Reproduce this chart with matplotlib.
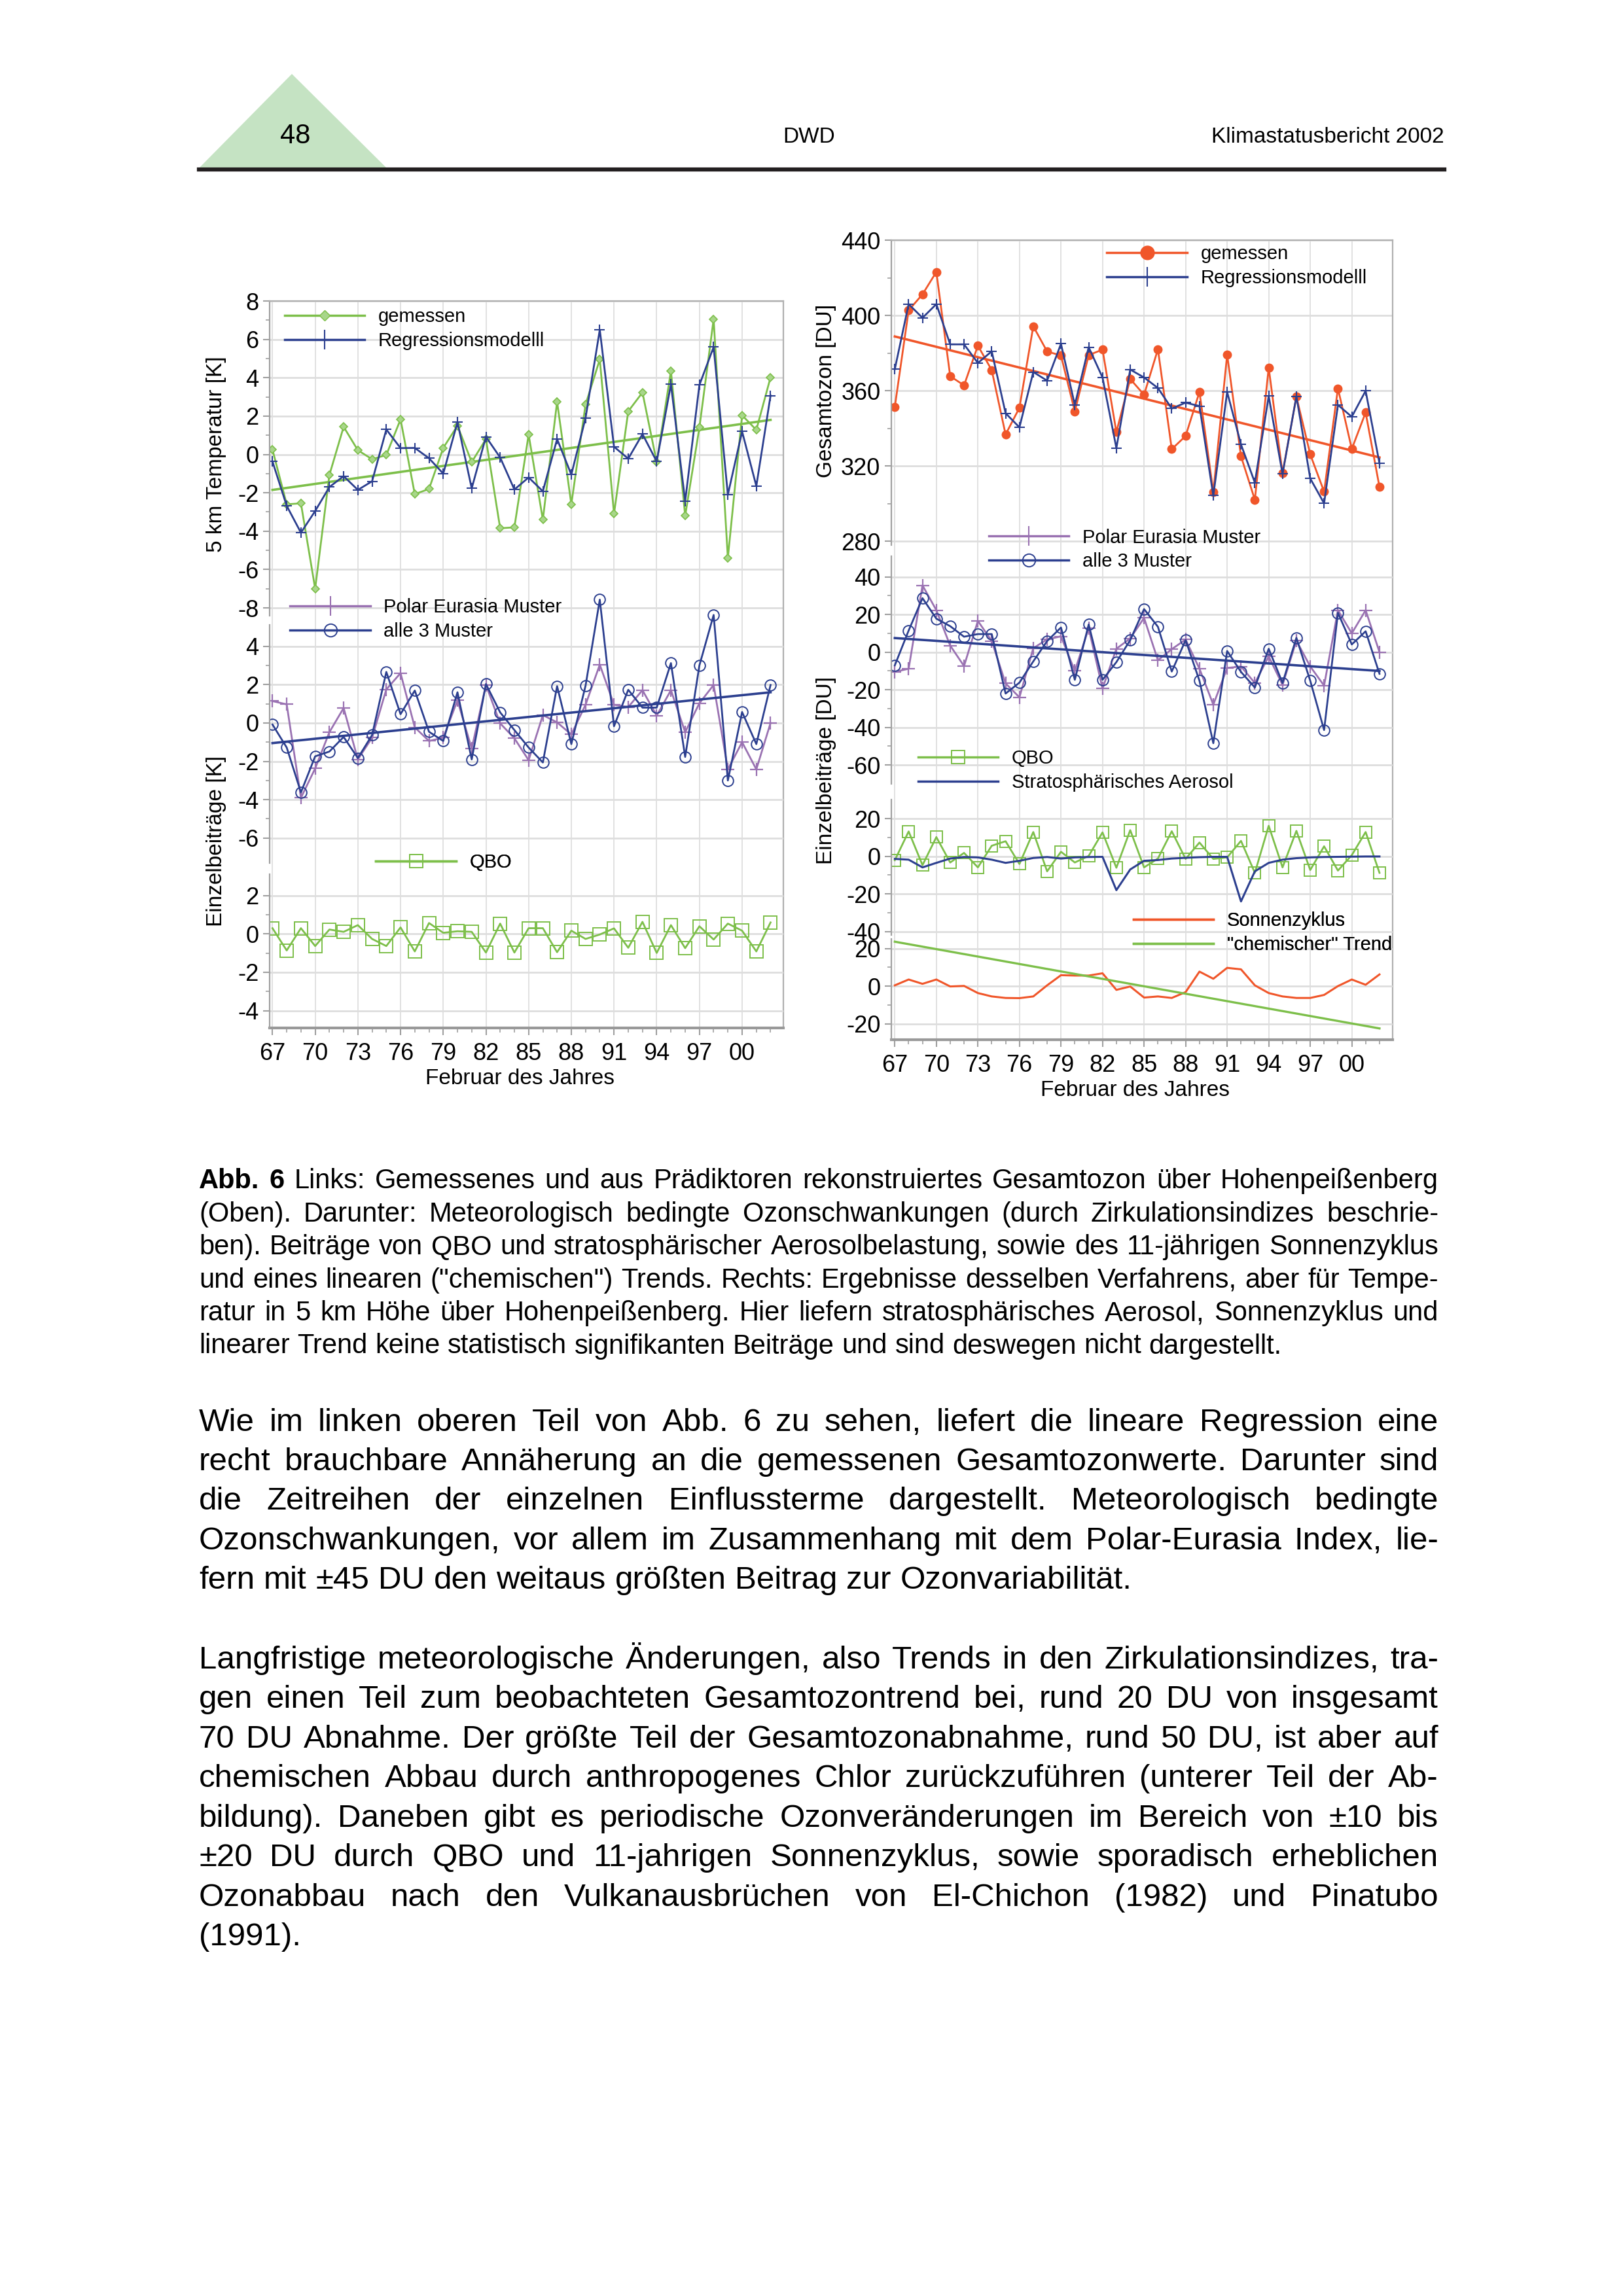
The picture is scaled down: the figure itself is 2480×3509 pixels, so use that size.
import matplotlib
matplotlib.use('Agg')
import matplotlib.pyplot as plt
from matplotlib.lines import Line2D
from matplotlib.patches import Polygon
from matplotlib.ticker import FixedLocator

plt.rcParams['font.family'] = ['Liberation Sans', 'DejaVu Sans']
plt.rcParams['axes.unicode_minus'] = False

# ---------------- data ----------------
years = list(range(1967, 2003))
year_ticks = [1967, 1970, 1973, 1976, 1979, 1982, 1985, 1988, 1991, 1994, 1997, 2000]
year_labels = ['67', '70', '73', '76', '79', '82', '85', '88', '91', '94', '97', '00']
trend_years = [1967, 2002]

# left: 5 km temperature [K]
temp_gemessen = [0.25, -2.6, -2.55, -7.0, -1.07, 1.44, 0.22, -0.25, -0.03, 1.83,
                 -2.07, -1.8, 0.34, 1.5, -0.4, 0.8, -3.85, -3.8, 1.04, -3.4,
                 2.75, -2.6, 2.6, 4.95, -3.1, 2.25, 3.23, -0.4, 4.35, -3.2,
                 1.4, 7.05, -5.4, 2.04, 1.28, 4.02]
temp_modell = [-0.37, -2.68, -4.08, -2.95, -1.7, -1.13, -1.85, -1.4, 1.3, 0.33,
               0.34, -0.2, -1.0, 1.68, -1.77, 0.92, -0.16, -1.83, -1.2, -1.92,
               0.8, -1.05, 1.9, 6.5, 0.4, -0.22, 1.06, -0.37, 3.66, -2.44,
               3.62, 5.6, -2.1, 1.2, -1.65, 3.07]
temp_trend = [-1.85, 1.8]
temp_polar = [1.14, 0.97, -3.9, -2.37, -0.48, 0.78, -1.9, -0.77, 1.75, 2.6,
              -0.23, -0.94, -0.77, 1.18, -1.34, 1.98, -0.02, -0.8, -1.94, 0.41,
              0.03, -0.6, 0.95, 3.04, 0.95, 0.83, 1.71, 0.38, 1.71, -0.48,
              1.03, 1.98, -2.42, -1.0, -2.42, 0.0]
temp_alle3 = [-0.08, -1.28, -3.62, -1.74, -1.49, -0.73, -1.83, -0.63, 2.66, 0.46,
              1.69, -0.46, -0.94, 1.6, -1.9, 2.03, 0.55, -0.37, -1.28, -2.06,
              1.92, -1.1, 1.94, 6.43, -0.17, 1.73, 0.8, 0.8, 3.12, -1.77,
              3.0, 5.63, -3.0, 0.57, -1.1, 1.98]
temp_alle3_trend = [-1.05, 1.6]
temp_qbo = [0.3, -0.86, 0.3, -0.63, 0.23, 0.11, 0.46, -0.26, -0.63, 0.34,
            -0.91, 0.57, 0.06, 0.14, 0.11, -0.97, 0.54, -0.97, 0.3, 0.3,
            -0.95, 0.17, -0.26, -0.03, 0.29, -0.72, 0.63, -0.99, 0.46, -0.74,
            0.4, -0.29, 0.54, 0.17, -0.91, 0.6]

# right: total ozone [DU]
oz_gemessen = [351.4, 402.7, 411.2, 423.1, 367.7, 362.8, 383.9, 370.9, 336.7, 350.9,
               394.2, 380.8, 378.7, 348.9, 378.9, 381.8, 338.0, 366.2, 357.8, 382.0,
               328.9, 335.9, 359.3, 306.1, 379.1, 325.1, 302.0, 372.2, 316.1, 356.8,
               326.1, 306.3, 361.2, 329.0, 348.4, 308.8]
oz_modell = [371.4, 406.0, 398.7, 406.0, 384.6, 384.6, 374.7, 380.9, 348.0, 340.5,
             369.9, 365.3, 384.9, 352.4, 383.1, 367.0, 329.5, 371.2, 367.0, 361.4,
             350.5, 353.6, 351.8, 304.2, 359.3, 331.4, 311.1, 357.1, 315.7, 357.0,
             313.3, 300.1, 352.4, 346.1, 359.9, 321.3]
oz_trend = [388.8, 324.5]
oz_polar = [-10.5, -8.8, 35.5, 22.3, 3.5, -7.4, 16.6, 5.9, -16.6, -24.0,
            2.1, 6.8, 8.4, -10.0, 12.7, -19.3, 1.8, 7.3, 18.2, -4.3,
            1.6, 6.7, -8.8, -27.9, -8.4, -7.6, -16.4, -2.3, -17.4, 6.1,
            -7.6, -17.8, 22.3, 10.0, 22.3, 0.0]
oz_alle3 = [-7.0, 11.5, 28.7, 17.8, 13.8, 8.2, 9.6, 9.6, -22.0, -16.2,
            -4.9, 5.9, 13.1, -14.7, 14.7, -14.7, -5.3, 6.4, 22.9, 13.5,
            -10.3, 6.4, -15.2, -48.4, 0.6, -10.5, -18.8, 1.8, -16.4, 7.6,
            -15.2, -41.4, 20.9, 4.1, 11.1, -11.5]
oz_alle3_trend = [7.5, -10.0]
oz_qbo = [-2.1, 13.2, -4.7, 10.2, -3.3, 1.8, -5.9, 5.6, 8.0, -4.1,
          12.9, -8.0, 2.4, -3.3, 0.2, 12.7, -6.1, 13.9, -5.9, -1.2,
          13.3, -1.4, 7.3, -1.4, -0.6, 8.2, -8.8, 16.2, -5.9, 13.5,
          -7.3, 5.3, -7.6, 0.6, 12.9, -8.8]
oz_aerosol = [-1.4, -1.8, -5.9, -3.5, -1.2, -0.4, -0.6, -1.8, -3.5, -2.4,
              -0.9, -0.4, -1.2, -0.6, -0.4, -0.3, -18.0, -7.0, -2.4, -2.0,
              -1.2, -0.8, -0.5, -0.3, -0.3, -24.0, -8.0, -3.5, -1.8, -1.0,
              -0.6, -0.4, -0.3, -0.2, -0.1, -0.1]
oz_sonne = [0.4, 3.5, 1.2, 3.5, -0.2, 0.1, -3.7, -5.5, -6.3, -6.4,
            -5.5, 0.4, 5.8, 5.6, 5.6, 6.8, -2.0, -0.2, -6.1, -5.5,
            -6.3, -3.2, 7.7, 3.9, 9.7, 8.9, 0.4, -3.7, -5.5, -6.3,
            -6.3, -4.7, 0.0, 3.5, 0.7, 6.2]
oz_chem = [23.6, -22.5]

# ---------------- style ----------------
W, H = 2480, 3509
GREEN = '#7dbf4a'
GREEN_L = '#a8d68a'
BLUE = '#2c3f8f'
PURPLE = '#9a72b2'
RED = '#f0562a'
GRID = '#dedede'
FRAME = '#a0a0a0'
TICK_FS = 26

fig = plt.figure(figsize=(W / 100, H / 100), dpi=100)


def fx(px):
    return px / W


def fy(py):
    return 1 - py / H


def panel(rect, name, xlim, ylim, yticks, minor, bounds, base=False):
    l, t, r, b = rect
    ax = fig.add_axes([fx(l), fy(b), fx(r - l), (b - t) / H], label=name)
    ax.patch.set_visible(False)
    ax.set_xlim(xlim)
    ax.set_ylim(ylim)
    ax.set_yticks(yticks)
    ax.set_yticklabels([str(v) for v in yticks])
    ax.yaxis.set_minor_locator(FixedLocator(minor))
    ax.tick_params(axis='y', which='major', labelsize=TICK_FS, length=7, width=1.5,
                   color=FRAME, pad=5)
    ax.tick_params(axis='y', which='minor', length=4, width=1.2, color=FRAME)
    ax.grid(axis='y', color=GRID, lw=2)
    ax.spines['left'].set_bounds(*bounds)
    ax.spines['left'].set_color(FRAME)
    ax.spines['left'].set_linewidth(1.6)
    if base:
        ax.set_xticks(year_ticks)
        ax.set_xticklabels(year_labels)
        ax.xaxis.set_minor_locator(FixedLocator(years))
        ax.tick_params(axis='x', which='major', labelsize=TICK_FS, length=8, width=1.5,
                       color=FRAME, pad=8)
        ax.tick_params(axis='x', which='minor', length=5, width=1.2, color=FRAME)
        ax.grid(axis='x', color=GRID, lw=1.3)
        for s in ['top', 'right']:
            ax.spines[s].set_color('#b0b0b0')
            ax.spines[s].set_linewidth(1.6)
        ax.spines['bottom'].set_color('#999999')
        ax.spines['bottom'].set_linewidth(3)
    else:
        ax.set_xticks([])
        for s in ['top', 'right', 'bottom']:
            ax.spines[s].set_visible(False)
    return ax


def legend(ax, handles, labels, x, y):
    leg = ax.legend(handles, labels, loc='upper left', bbox_to_anchor=(x, y),
                    frameon=False, fontsize=21, handlelength=4.2, handletextpad=0.7,
                    labelspacing=0.3, borderpad=0, borderaxespad=0)
    ax.add_artist(leg)


# ---------------- header ----------------
fig.add_artist(Polygon([[fx(304), fy(257)], [fx(591), fy(257)], [fx(446), fy(113)]],
                       closed=True, transform=fig.transFigure, facecolor='#c5e3c3',
                       edgecolor='none'))
fig.add_artist(Line2D([fx(304), fx(2207)], [fy(259), fy(259)], lw=4.5,
                      color='#231f20', transform=fig.transFigure))
fig.text(fx(451), fy(208), '48', fontsize=30, ha='center', va='center')
fig.text(fx(1236), fy(210), 'DWD', fontsize=24, ha='center', va='center')
fig.text(fx(2207), fy(210), 'Klimastatusbericht 2002', fontsize=24, ha='right',
         va='center')

# ---------------- left chart (temperature) ----------------
L_RECT = (412, 460, 1197, 1571)
L_XLIM = (1966.8, 2002.9)
lt = panel(L_RECT, 'lt', L_XLIM, (-29.9, 8), [8, 6, 4, 2, 0, -2, -4, -6, -8],
           [7, 5, 3, 1, -1, -3, -5, -7], (-8.4, 8), base=True)
lm = panel(L_RECT, 'lm', L_XLIM, (-15.9, 22), [4, 2, 0, -2, -4, -6],
           [3, 1, -1, -3, -5], (-7.3, 5.1))
lb = panel(L_RECT, 'lb', L_XLIM, (-4.9, 33), [2, 0, -2, -4], [1, -1, -3], (-4.9, 3.1))

lt.plot(trend_years, temp_trend, color=GREEN, lw=2.6)
lt.plot(years, temp_gemessen, color=GREEN, lw=2, marker='D', ms=6, mfc=GREEN_L,
        mec=GREEN, mew=1.2)
lt.plot(years, temp_modell, color=BLUE, lw=2, marker='+', ms=11, mew=1.5)
lm.plot(years, temp_polar, color=PURPLE, lw=2, marker='+', ms=14, mew=1.6)
lm.plot(years, temp_alle3, color=BLUE, lw=2, marker='o', ms=12, mfc='none', mew=1.4)
lm.plot(trend_years, temp_alle3_trend, color=BLUE, lw=2.6)
lb.plot(years, temp_qbo, color=GREEN, lw=2, marker='s', ms=15, mfc='none', mew=1.4)

legend(lb, [Line2D([], [], color=GREEN, lw=2.5, marker='D', ms=8, mfc=GREEN_L, mec=GREEN),
            Line2D([], [], color=BLUE, lw=2.5, marker='|', ms=22, mew=1.5)],
       ['gemessen', 'Regressionsmodelll'], 0.029, 0.991)
legend(lb, [Line2D([], [], color=PURPLE, lw=2.5, marker='|', ms=22, mew=1.5),
            Line2D([], [], color=BLUE, lw=2.5, marker='o', ms=14, mfc='none', mew=1.4)],
       ['Polar Eurasia Muster', 'alle 3 Muster'], 0.040, 0.591)
legend(lb, [Line2D([], [], color=GREEN, lw=2.5, marker='s', ms=15, mfc='none', mew=1.4)],
       ['QBO'], 0.207, 0.240)

fig.text(fx(331), fy(694), '5 km Temperatur [K]', fontsize=24, rotation=90,
         ha='center', va='center')
fig.text(fx(331), fy(1285), 'Einzelbeiträge [K]', fontsize=24, rotation=90,
         ha='center', va='center')
fig.text(fx(794), fy(1648), 'Februar des Jahres', fontsize=24, ha='center', va='center')

# ---------------- right chart (ozone) ----------------
R_RECT = (1362, 367, 2128, 1589)
R_XLIM = (1966.75, 2002.95)
rt = panel(R_RECT, 'rt', R_XLIM, (15, 440), [440, 400, 360, 320, 280],
           [420, 380, 340, 300], (278, 440), base=True)
rm = panel(R_RECT, 'rm', R_XLIM, (-206, 219), [40, 20, 0, -20, -40, -60],
           [30, 10, -10, -30, -50], (-70, 51))
rb1 = panel(R_RECT, 'rb1', R_XLIM, (-97.5, 327.5), [20, 0, -20, -40], [10, -10, -30],
            (-42, 30))
rb2 = panel(R_RECT, 'rb2', R_XLIM, (-28.5, 396.5), [20, 0, -20], [10, -10], (-28.5, 25))

rt.plot(trend_years, oz_trend, color=RED, lw=2.6)
rt.plot(years, oz_gemessen, color=RED, lw=2, marker='o', ms=9, mfc=RED, mec=RED)
rt.plot(years, oz_modell, color=BLUE, lw=2, marker='+', ms=11, mew=1.5)
rm.plot(years, oz_polar, color=PURPLE, lw=2, marker='+', ms=14, mew=1.6)
rm.plot(years, oz_alle3, color=BLUE, lw=2, marker='o', ms=12, mfc='none', mew=1.4)
rm.plot(trend_years, oz_alle3_trend, color=BLUE, lw=2.6)
rb1.plot(years, oz_qbo, color=GREEN, lw=2, marker='s', ms=13, mfc='none', mew=1.4)
rb1.plot(years, oz_aerosol, color=BLUE, lw=2.2)
rb2.plot(years, oz_sonne, color=RED, lw=2.2)
rb2.plot(trend_years, oz_chem, color=GREEN, lw=2.4)

legend(rb2, [Line2D([], [], color=RED, lw=2.5, marker='o', ms=15, mfc=RED, mec=RED),
             Line2D([], [], color=BLUE, lw=2.5, marker='|', ms=22, mew=1.5)],
       ['gemessen', 'Regressionsmodelll'], 0.43, 0.994)
legend(rb2, [Line2D([], [], color=PURPLE, lw=2.5, marker='|', ms=22, mew=1.5),
             Line2D([], [], color=BLUE, lw=2.5, marker='o', ms=14, mfc='none', mew=1.4)],
       ['Polar Eurasia Muster', 'alle 3 Muster'], 0.194, 0.6395)
legend(rb2, [Line2D([], [], color=GREEN, lw=2.5, marker='s', ms=15, mfc='none', mew=1.4),
             Line2D([], [], color=BLUE, lw=2.5)],
       ['QBO', 'Stratosphärisches Aerosol'], 0.053, 0.363)
legend(rb2, [Line2D([], [], color=RED, lw=2.5), Line2D([], [], color=GREEN, lw=2.5)],
       ['Sonnenzyklus', '"chemischer" Trend'], 0.4826, 0.160)

fig.text(fx(1262), fy(597), 'Gesamtozon [DU]', fontsize=24, rotation=90,
         ha='center', va='center')
fig.text(fx(1262), fy(1177), 'Einzelbeiträge [DU]', fontsize=24, rotation=90,
         ha='center', va='center')
fig.text(fx(1734), fy(1666), 'Februar des Jahres', fontsize=24, ha='center', va='center')

# ---------------- caption and body text ----------------
caption = [
    'Abb. 6 Links: Gemessenes und aus Prädiktoren rekonstruiertes Gesamtozon über Hohenpeißenberg',
    '(Oben). Darunter: Meteorologisch bedingte Ozonschwankungen (durch Zirkulationsindizes beschrie-',
    'ben). Beiträge von QBO und stratosphärischer Aerosolbelastung, sowie des 11-jährigen Sonnenzyklus',
    'und eines linearen ("chemischen") Trends. Rechts: Ergebnisse desselben Verfahrens, aber für Tempe-',
    'ratur in 5 km Höhe über Hohenpeißenberg. Hier liefern stratosphärisches Aerosol, Sonnenzyklus und',
    'linearer Trend keine statistisch signifikanten Beiträge und sind deswegen nicht dargestellt.',
]
para1 = [
    'Wie im linken oberen Teil von Abb. 6 zu sehen, liefert die lineare Regression eine',
    'recht brauchbare Annäherung an die gemessenen Gesamtozonwerte. Darunter sind',
    'die Zeitreihen der einzelnen Einflussterme dargestellt. Meteorologisch bedingte',
    'Ozonschwankungen, vor allem im Zusammenhang mit dem Polar-Eurasia Index, lie-',
    'fern mit ±45 DU den weitaus größten Beitrag zur Ozonvariabilität.',
]
para2 = [
    'Langfristige meteorologische Änderungen, also Trends in den Zirkulationsindizes, tra-',
    'gen einen Teil zum beobachteten Gesamtozontrend bei, rund 20 DU von insgesamt',
    '70 DU Abnahme. Der größte Teil der Gesamtozonabnahme, rund 50 DU, ist aber auf',
    'chemischen Abbau durch anthropogenes Chlor zurückzuführen (unterer Teil der Ab-',
    'bildung). Daneben gibt es periodische Ozonveränderungen im Bereich von ±10 bis',
    '±20 DU durch QBO und 11-jahrigen Sonnenzyklus, sowie sporadisch erheblichen',
    'Ozonabbau nach den Vulkanausbrüchen von El-Chichon (1982) und Pinatubo',
    '(1991).',
]

X0, X1 = 304, 2198
renderer = fig.canvas.get_renderer()


def text_block(lines, first_center, step, size, bold_first=0):
    px = size * 100 / 72
    for i, line in enumerate(lines):
        yb = fy(first_center + i * step + 0.36 * px)
        words = line.split(' ')
        arts = []
        for j, w in enumerate(words):
            wt = 'bold' if (i == 0 and j < bold_first) else 'normal'
            arts.append(fig.text(0, yb, w, fontsize=size, weight=wt, ha='left',
                                 va='baseline'))
        widths = [a.get_window_extent(renderer).width for a in arts]
        if i == len(lines) - 1 or len(words) == 1:
            gap = 0.278 * px
        else:
            gap = (X1 - X0 - sum(widths)) / (len(words) - 1)
        x = X0
        for a, wd in zip(arts, widths):
            a.set_x(fx(x))
            x += wd + gap


text_block(caption, 1801, 50.5, 30, bold_first=2)
text_block(para1, 2169, 60.3, 35.5)
text_block(para2, 2532, 60.5, 35.5)

fig.savefig('out.png', dpi=100)
